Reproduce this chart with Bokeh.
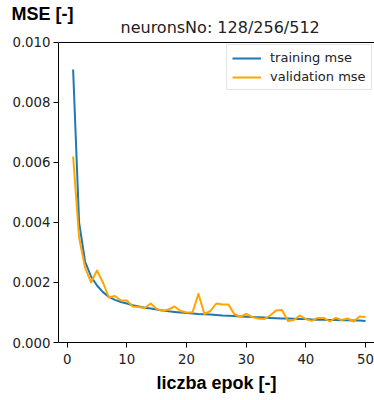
from bokeh.plotting import figure
from bokeh.models import Range1d, Title, FixedTicker, PrintfTickFormatter, Legend, LegendItem, Label, Span
from bokeh.embed import file_html
from bokeh.resources import INLINE

epochs = list(range(1, 51))
training_mse = [
    0.00910, 0.00400, 0.00270, 0.00220, 0.00190, 0.00168, 0.00152, 0.00142, 0.00135, 0.00130,
    0.00124, 0.00120, 0.00116, 0.00113, 0.00110, 0.00107, 0.00104, 0.00102, 0.00100, 0.00098,
    0.00097, 0.00095, 0.00094, 0.00093, 0.00092, 0.00090, 0.00089, 0.00088, 0.00087, 0.00086,
    0.00085, 0.00084, 0.00083, 0.00082, 0.00081, 0.00080, 0.00080, 0.00079, 0.00078, 0.00078,
    0.00077, 0.00076, 0.00076, 0.00075, 0.00075, 0.00074, 0.00074, 0.00073, 0.00073, 0.00072,
]
validation_mse = [
    0.00620, 0.00350, 0.00250, 0.00200, 0.00240, 0.00200, 0.00150, 0.00155, 0.00140, 0.00140,
    0.00120, 0.00118, 0.00115, 0.00130, 0.00112, 0.00105, 0.00110, 0.00120, 0.00105, 0.00100,
    0.00100, 0.00162, 0.00095, 0.00105, 0.00130, 0.00127, 0.00127, 0.00095, 0.00085, 0.00095,
    0.00085, 0.00080, 0.00078, 0.00090, 0.00107, 0.00108, 0.00072, 0.00075, 0.00090, 0.00078,
    0.00072, 0.00082, 0.00082, 0.00070, 0.00082, 0.00075, 0.00080, 0.00070, 0.00087, 0.00085,
]
x_ticks = [0, 10, 20, 30, 40, 50]
y_ticks = [0.0, 0.002, 0.004, 0.006, 0.008, 0.010]
y_max = 0.010

p = figure(width=374, height=400, output_backend="svg", toolbar_location=None,
           x_range=Range1d(-1.45, 51.5), y_range=Range1d(0, 0.010733),
           min_border_left=58, min_border_right=0, min_border_top=20, min_border_bottom=58)
p.title.visible = False

TICK_FONT = "DejaVu Sans"
for ax in (p.xaxis[0], p.yaxis[0]):
    ax.major_label_text_font = TICK_FONT
    ax.major_label_text_font_size = "13.3px"
    ax.major_label_text_color = "#222222"
    ax.axis_line_color = "black"
    ax.major_tick_line_color = "black"
    ax.major_tick_out = 5
    ax.major_tick_in = 0
    ax.minor_tick_line_color = None
    ax.major_label_standoff = 3
p.xaxis.major_label_standoff = 6
p.yaxis.bounds = (0, y_max)

p.xaxis.ticker = FixedTicker(ticks=x_ticks)
p.yaxis.ticker = FixedTicker(ticks=y_ticks)
p.yaxis.formatter = PrintfTickFormatter(format="%.3f")
p.xaxis.axis_label = "liczba epok [-]"
p.xaxis.axis_label_text_font = "Liberation Sans"
p.xaxis.axis_label_text_font_style = "bold"
p.xaxis.axis_label_text_font_size = "18px"
p.xaxis.axis_label_text_color = "black"
p.xaxis.axis_label_standoff = 6

p.xgrid.visible = False
p.ygrid.visible = False
p.outline_line_color = None
p.add_layout(Span(location=y_max, dimension="width", line_color="black", line_width=1))

r1 = p.line(epochs, training_mse, line_color="#1f77b4", line_width=2, line_join="round")
r2 = p.line(epochs, validation_mse, line_color="#ffa500", line_width=2, line_join="round")

legend = Legend(items=[LegendItem(label="training mse", renderers=[r1]),
                       LegendItem(label="validation mse", renderers=[r2])],
                location=(168, 252), margin=0, padding=5, spacing=4,
                glyph_width=29, glyph_height=14, label_height=14, label_standoff=9,
                label_text_font=TICK_FONT, label_text_font_size="13px",
                label_text_color="#222222",
                border_line_color="#cccccc", border_line_width=1,
                background_fill_alpha=0.8)
p.add_layout(legend, "center")

subtitle = Label(x=62, y=0.010497, x_units="screen", y_units="data", text="neuronsNo: 128/256/512",
                 text_font=TICK_FONT, text_font_size="16px", text_color="#222222",
                 text_baseline="alphabetic", text_align="left")
p.add_layout(subtitle)

t2 = Title(text="MSE [-]", text_font="Liberation Sans", text_font_size="18px",
           text_font_style="bold", text_color="black", align="left", offset=-47, standoff=-6)
p.add_layout(t2, "above")

open("out.html", "w").write(file_html(p, INLINE))
